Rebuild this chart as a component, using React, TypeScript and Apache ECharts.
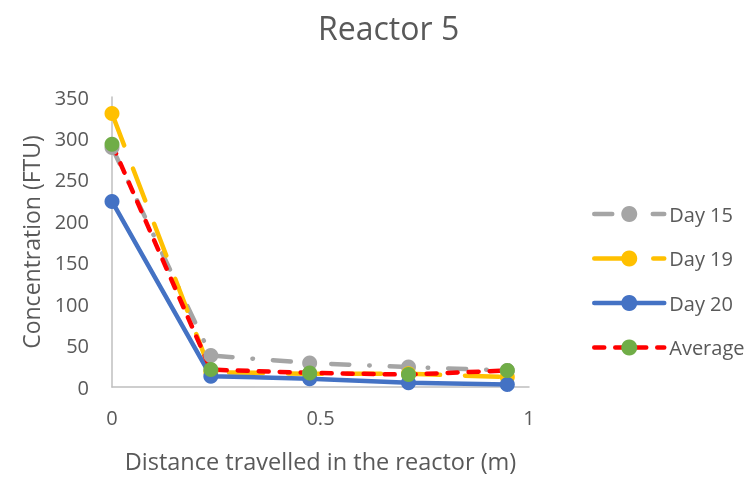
import React, { useEffect, useRef } from "react";
import * as echarts from "echarts";

// Sampling positions along the reactor (m)
const distances = [0, 0.237, 0.474, 0.711, 0.948];

// Turbidity readings (FTU) at each position
const day15 = [289, 38, 29, 24, 20];
const day19 = [330, 18, 16, 16, 12];
const day20 = [224, 13, 10, 5, 3];
const average = [293, 21, 17, 15, 20];

const seriesNames = ["Day 15", "Day 19", "Day 20", "Average"];

const TEXT = "#595959";
const FONT = "Open Sans";
const LINE_W = 4.5;

function pairs(ys: number[]) {
  return distances.map((x, i) => [x, ys[i]]);
}

export default function App() {
  const ref = useRef<HTMLDivElement>(null);

  useEffect(() => {
    if (!ref.current) return;
    const chart = echarts.init(ref.current, undefined, { renderer: "svg" });
    const lineSeries = (
      name: string,
      ys: number[],
      color: string,
      markerColor: string,
      dash: number[] | "solid"
    ) => ({
      name,
      type: "line",
      data: pairs(ys),
      symbol: "circle",
      symbolSize: 15,
      showSymbol: true,
      itemStyle: { color: markerColor, borderWidth: 0 },
      lineStyle: { color, width: LINE_W, type: dash, cap: "round" },
    });

    const styles: Record<string, { color: string; marker: string; dash: number[] | "solid" }> = {
      "Day 15": { color: "#a5a5a5", marker: "#a5a5a5", dash: [18, 20, 0.5, 20] },
      "Day 19": { color: "#ffc000", marker: "#ffc000", dash: [34, 25] },
      "Day 20": { color: "#4472c4", marker: "#4472c4", dash: "solid" },
      Average: { color: "#ff0000", marker: "#70ad47", dash: [10, 11] },
    };
    const values: Record<string, number[]> = {
      "Day 15": day15,
      "Day 19": day19,
      "Day 20": day20,
      Average: average,
    };

    chart.setOption({
      animation: false,
      textStyle: { fontFamily: FONT },
      title: {
        text: "Reactor 5",
        left: 313,
        top: 6,
        textStyle: { color: TEXT, fontSize: 32, fontWeight: "normal", fontFamily: FONT },
      },
      grid: { left: 112, top: 97, width: 417, height: 293, containLabel: false },
      xAxis: {
        type: "value",
        min: 0,
        max: 1,
        interval: 0.5,
        name: "Distance travelled in the reactor (m)",
        nameLocation: "middle",
        nameGap: 62,
        nameTextStyle: { color: TEXT, fontSize: 23.5, fontFamily: FONT },
        axisLine: { show: true, lineStyle: { color: "#bfbfbf", width: 1.5 } },
        axisTick: { show: false },
        splitLine: { show: false },
        axisLabel: { color: TEXT, fontSize: 20, margin: 20, fontFamily: FONT },
      },
      yAxis: {
        type: "value",
        min: 0,
        max: 350,
        interval: 50,
        name: "Concentration (FTU)",
        nameLocation: "middle",
        nameGap: 70,
        nameTextStyle: { color: TEXT, fontSize: 23, fontFamily: FONT },
        axisLine: { show: true, lineStyle: { color: "#bfbfbf", width: 1.5 } },
        axisTick: { show: false },
        splitLine: { show: false },
        axisLabel: { color: TEXT, fontSize: 20, margin: 23, fontFamily: FONT },
      },
      legend: {
        orient: "vertical",
        left: 587,
        top: 199,
        itemWidth: 70,
        itemHeight: 20,
        itemGap: 24.5,
        textStyle: { color: TEXT, fontSize: 20, fontFamily: FONT },
        data: seriesNames.map((n) => ({
          name: n,
          lineStyle: { width: LINE_W, type: styles[n].dash, cap: "round" },
        })),
      },
      series: seriesNames.map((n) =>
        lineSeries(n, values[n], styles[n].color, styles[n].marker, styles[n].dash)
      ),
    });
    return () => chart.dispose();
  }, []);

  return (
    <div
      ref={ref}
      style={{ position: "fixed", left: 0, top: 0, width: 754, height: 478 }}
    />
  );
}
